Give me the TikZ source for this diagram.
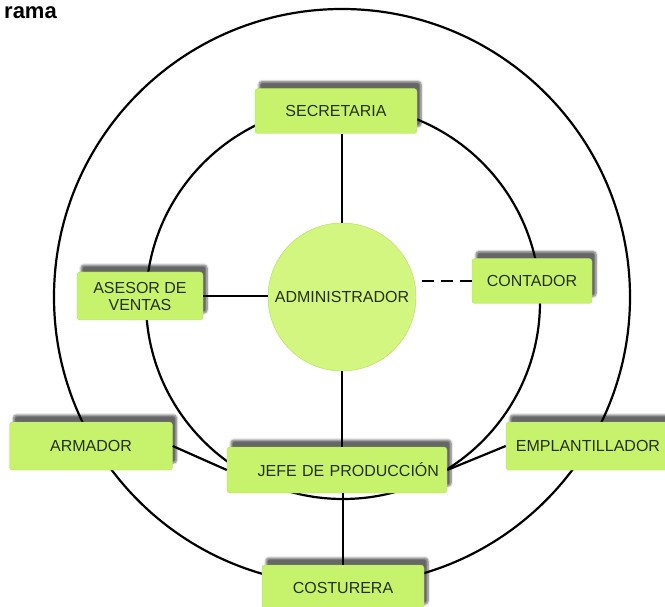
\documentclass[tikz,border=0pt]{standalone}
\usepackage{fontspec}
\setmainfont{Liberation Sans}
\usepackage{tikz}
\usetikzlibrary{shadows.blur}
\definecolor{hoja}{RGB}{199,243,108}
\definecolor{hojaclara}{RGB}{210,246,128}
\definecolor{borde}{RGB}{176,222,92}
\definecolor{letra}{RGB}{38,48,20}
\tikzset{puesto/.style={rectangle, rounded corners=3pt, draw=borde, fill=hoja, text=letra,
   font=\fontsize{16}{17}\selectfont, inner sep=0pt, align=center,
   blur shadow={shadow xshift=4pt, shadow yshift=7pt, shadow opacity=60, shadow blur steps=6}}}
\tikzset{nucleo/.style={circle, draw=borde, fill=hojaclara, text=letra,
   font=\fontsize{16}{17}\selectfont, minimum size=148pt, inner sep=0pt}}
\tikzset{aro/.style={line width=2.2pt}}
\tikzset{enlace/.style={line width=2.2pt}}

\begin{document}
\begin{tikzpicture}[x=1pt, y=-1pt]

    \useasboundingbox (0,0) rectangle (665,607);
    \node[anchor=base west, font=\fontsize{22}{22}\bfseries\selectfont, inner sep=2pt] (titulo) at (2,19) {rama};

    \draw[aro] (342,297) circle[radius=288];
    \draw[aro] (343,302) circle[radius=197];

    \node[nucleo] (admin) at (342,297) {ADMINISTRADOR};

    \node[puesto, minimum width=162pt, minimum height=45pt] (secretaria) at (336,111) {SECRETARIA};
    \node[puesto, minimum width=126pt, minimum height=48pt] (asesor) at (140,296) {ASESOR DE\\VENTAS};
    \node[puesto, minimum width=120pt, minimum height=45pt] (contador) at (532,281) {CONTADOR};
    \node[puesto, minimum width=163pt, minimum height=48pt] (armador) at (91,446) {ARMADOR};
    \node[puesto, minimum height=46pt, text width=204pt, inner xsep=8pt, align=right] (jefe) at (337,470) {JEFE DE PRODUCCIÓN};
    \node[puesto, minimum width=164pt, minimum height=48pt] (emplantillador) at (588,446) {EMPLANTILLADOR};
    \node[puesto, minimum width=162pt, minimum height=46pt] (costurera) at (343,588) {COSTURERA};

    \draw[enlace] (admin.north) -- (admin.north |- secretaria.south);
    \draw[enlace] (asesor.east) -- (asesor.east -| admin.west);
    \draw[enlace, dash pattern=on 12pt off 7pt] (contador.west) -- (contador.west -| admin.east);
    \draw[enlace] (admin.south) -- (admin.south |- jefe.north);
    \draw[enlace] (armador.east) -- (jefe.west);
    \draw[enlace] (jefe.east) -- (emplantillador.west);
    \draw[enlace] (costurera.north) -- (costurera.north |- jefe.south);

  \end{tikzpicture}
\end{document}
